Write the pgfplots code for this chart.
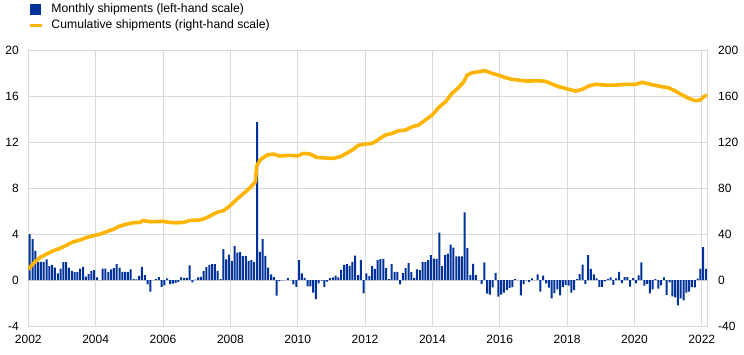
\documentclass[border=0pt]{standalone}
\usepackage{fontspec}
\setmainfont{Liberation Sans}
\usepackage{pgfplots}
\usepackage{pgfplotstable}
\pgfplotsset{compat=1.18}
\definecolor{ecbblue}{RGB}{0,50,153}
\definecolor{ecbyellow}{RGB}{255,180,0}
\definecolor{gridgray}{RGB}{217,217,217}

\pgfplotstableread{
m v
0.5 4.0
1.5 3.57
2.5 2.55
3.5 1.6
4.5 1.6
5.5 1.6
6.5 1.8
7.5 1.22
8.5 1.33
9.5 1.1
10.5 0.58
11.5 1.0
12.5 1.57
13.5 1.57
14.5 1.1
15.5 0.8
16.5 0.7
17.5 0.7
18.5 1.0
19.5 1.15
20.5 0.3
21.5 0.52
22.5 0.78
23.5 0.87
24.5 0.23
25.5 0.0
26.5 1.0
27.5 1.0
28.5 0.72
29.5 0.93
30.5 1.04
31.5 1.4
32.5 1.1
33.5 0.72
34.5 0.72
35.5 0.7
36.5 0.93
37.5 0.1
38.5 0.06
39.5 0.38
40.5 1.15
41.5 0.43
42.5 -0.38
43.5 -1.0
44.5 0.0
45.5 0.1
46.5 0.26
47.5 -0.58
48.5 -0.46
49.5 0.15
50.5 -0.35
51.5 -0.3
52.5 -0.23
53.5 -0.15
54.5 0.23
55.5 0.2
56.5 0.2
57.5 1.28
58.5 -0.2
59.5 0.05
60.5 0.23
61.5 0.29
62.5 0.81
63.5 1.13
64.5 1.3
65.5 1.39
66.5 1.39
67.5 0.81
68.5 0.09
69.5 2.7
70.5 1.8
71.5 2.23
72.5 1.65
73.5 2.96
74.5 2.4
75.5 2.43
76.5 2.09
77.5 2.09
78.5 1.68
79.5 1.74
80.5 1.6
81.5 13.8
82.5 2.46
83.5 3.57
84.5 2.12
85.5 1.1
86.5 0.49
87.5 0.26
88.5 -1.36
89.5 -0.09
90.5 -0.03
91.5 0.0
92.5 0.17
93.5 0.0
94.5 -0.38
95.5 -0.58
96.5 1.74
97.5 0.58
98.5 0.2
99.5 -0.55
100.5 -0.55
101.5 -1.1
102.5 -1.65
103.5 -0.29
104.5 -0.05
105.5 -0.6
106.5 -0.14
107.5 0.17
108.5 0.23
109.5 0.4
110.5 0.23
111.5 0.9
112.5 1.33
113.5 1.39
114.5 1.25
115.5 1.6
116.5 2.14
117.5 0.43
118.5 1.74
119.5 -1.16
120.5 0.58
121.5 0.35
122.5 1.22
123.5 0.99
124.5 1.74
125.5 1.83
126.5 1.86
127.5 1.04
128.5 0.09
129.5 1.39
130.5 0.72
131.5 0.72
132.5 -0.38
133.5 0.61
134.5 1.04
135.5 1.48
136.5 0.72
137.5 0.2
138.5 0.93
139.5 0.87
140.5 1.6
141.5 1.6
142.5 1.74
143.5 2.17
144.5 1.88
145.5 1.86
146.5 4.14
147.5 1.22
148.5 2.2
149.5 2.32
150.5 3.1
151.5 2.84
152.5 2.06
153.5 2.06
154.5 2.06
155.5 5.9
156.5 2.78
157.5 0.43
158.5 1.42
159.5 0.43
160.5 0.0
161.5 -0.32
162.5 1.55
163.5 -1.17
164.5 -1.26
165.5 -0.64
166.5 0.64
167.5 -1.43
168.5 -1.26
169.5 -1.08
170.5 -0.88
171.5 -0.67
172.5 -0.6
173.5 0.09
174.5 0.0
175.5 -1.32
176.5 -0.35
177.5 -0.03
178.5 -0.15
179.5 0.15
180.5 0.0
181.5 0.49
182.5 -1.0
183.5 0.4
184.5 -0.29
185.5 -0.66
186.5 -1.6
187.5 -1.13
188.5 -0.8
189.5 -1.32
190.5 -0.6
191.5 -0.43
192.5 -0.48
193.5 -1.08
194.5 -0.88
195.5 0.09
196.5 0.53
197.5 1.36
198.5 -0.32
199.5 2.17
200.5 0.98
201.5 0.51
202.5 0.16
203.5 -0.58
204.5 -0.58
205.5 -0.1
206.5 0.1
207.5 0.23
208.5 -0.41
209.5 0.15
210.5 0.72
211.5 -0.26
212.5 0.26
213.5 0.26
214.5 -0.56
215.5 0.17
216.5 -0.29
217.5 0.41
218.5 1.54
219.5 -0.49
220.5 -0.32
221.5 -1.16
222.5 -0.8
223.5 0.09
224.5 -0.75
225.5 -0.46
226.5 0.23
227.5 -1.28
228.5 -0.2
229.5 -1.42
230.5 -1.5
231.5 -2.2
232.5 -1.59
233.5 -1.77
234.5 -1.1
235.5 -1.01
236.5 -0.61
237.5 -0.64
238.5 0.12
239.5 1.01
240.5 2.87
241.5 0.99
}\monthly

\pgfplotstableread{
m c
0 9.3
1.8 14.5
4.2 19.8
6.5 22.7
8.9 25.6
11.3 27.6
13.7 30.5
16 33.4
18.4 34.9
20.8 37.2
24 39.2
25.6 40.1
27.8 42.1
30.2 44.2
32.6 47.1
35 48.8
37.4 50
39.8 50.3
40.9 52
43.3 50.9
48 51.2
50.5 50.3
52.9 50
55.2 50.3
57.6 52
61.2 52.4
63.6 54.4
67.1 59
69.5 60.5
72 65
74.3 70.5
76.7 75.5
79 80.5
80.9 85.5
81.4 99.5
82.6 104.7
85 109
87.4 109.9
89.6 108.2
93.2 108.8
96 108.2
98 110.5
100.4 109.9
102.7 107
106.3 106.4
108.7 106.1
111.1 107.6
113.4 110.5
115.8 114
117.6 117.5
120 118.6
122.5 119.2
124.9 122.7
127.2 126.5
129.6 127.9
132 130.3
134.4 130.8
136.8 133.7
139.1 135.2
141.5 139.6
143.9 143.9
146.3 150.6
148.7 155.5
151 162.8
153.4 168
155.2 173
156.4 178.8
158.2 180.8
160.6 181.7
162.8 182.6
165.2 180.3
168.2 178.2
170 176.5
172.4 175
174.7 174.4
177.1 173.6
179.5 173.6
181.9 173.8
184.3 173.3
186.6 171
189 168.6
192.2 166.6
195 164.8
197.4 166.3
199.7 169.2
202.1 170.7
205.7 170
209.3 170
212.8 170.7
216.4 170.7
218.8 172.4
221.2 171
223.4 169.8
225.8 168.6
228.2 167.7
230.6 164.8
233 161.4
235.3 158.5
237.7 156.4
239.5 157
240.7 159.9
241.9 161.4
}\cumul

\begin{document}
\begin{tikzpicture}
\path[use as bounding box] (-28.3pt,-28pt) rectangle (715.7pt,326pt);
\begin{axis}[
  scale only axis, width=679.1pt, height=275.3pt,
  at={(0pt,0pt)}, anchor=south west,
  xmin=0, xmax=242, ymin=-4, ymax=20,
  xtick={0,24,...,240},
  xticklabels={2002,2004,2006,2008,2010,2012,2014,2016,2018,2020,2022},
  ytick={-4,0,4,8,12,16,20},
  grid=major, grid style={gridgray, line width=0.9pt},
  axis line style={gridgray, line width=0.9pt},
  tick style={draw=none},
  /pgf/number format/assume math mode=true,
  ticklabel style={font=\fontsize{12}{14}\selectfont},
  yticklabel style={anchor=east, inner sep=0pt, xshift=-9.3pt},
  xticklabel style={anchor=north, inner sep=0pt, yshift=-9pt},
]
\addplot[ybar, bar width=2pt, fill=ecbblue, draw=none, bar shift=0pt] table[x=m, y=v] {\monthly};
\end{axis}
\begin{axis}[
  scale only axis, width=679.1pt, height=275.3pt,
  at={(0pt,0pt)}, anchor=south west,
  xmin=0, xmax=242, ymin=-40, ymax=200,
  ytick={-40,0,40,80,120,160,200},
  axis x line=none, axis y line*=right,
  axis line style={gridgray, line width=0.9pt},
  tick style={draw=none},
  /pgf/number format/assume math mode=true,
  ticklabel style={font=\fontsize{12}{14}\selectfont},
  yticklabel style={anchor=west, inner sep=0pt, xshift=10.6pt},
  legend style={at={(axis description cs:0,1)}, anchor=south west, yshift=20pt,
    draw=none, fill=none, inner sep=0pt, font=\fontsize{12.2}{14}\selectfont,
    nodes={inner sep=0pt}, row sep=6pt,
    /tikz/every odd column/.append style={column sep=8pt}},
  legend cell align=left,
]
\addlegendimage{legend image code/.code={\fill[ecbblue] (0pt,-5pt) rectangle (10pt,5pt);}}
\addlegendentry{Monthly shipments (left-hand scale)}
\addplot[ecbyellow, line width=3.6pt, line join=round,
  legend image code/.code={\draw[ecbyellow, line width=3pt] (0pt,0pt) -- (12pt,0pt);}] table[x=m, y=c] {\cumul};
\addlegendentry{Cumulative shipments (right-hand scale)}
\end{axis}
\end{tikzpicture}
\end{document}
